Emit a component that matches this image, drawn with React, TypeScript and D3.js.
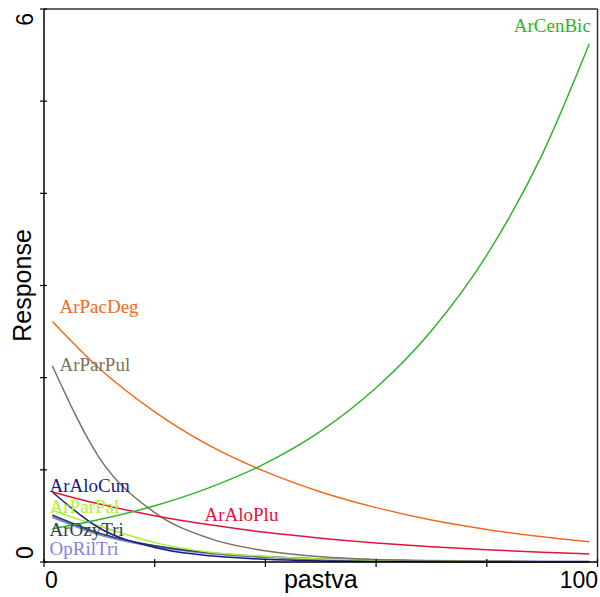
import React from "react";
import * as d3 from "d3";

const xs = [1.5, 10, 20, 30, 40, 50, 60, 70, 80, 90, 98.5];

const species = ["ArCenBic", "ArPacDeg", "ArParPul", "ArAloCun", "ArAloPlu", "ArParPal", "ArOzyTri", "OpRilTri"];

const ArCenBic = [0.36, 0.46, 0.61, 0.81, 1.07, 1.42, 1.89, 2.51, 3.33, 4.42, 5.62];
const ArPacDeg = [2.61, 2.1, 1.63, 1.26, 0.98, 0.76, 0.59, 0.455, 0.353, 0.273, 0.22];
const ArParPul = [2.13, 1.13, 0.536, 0.254, 0.121, 0.057, 0.027, 0.013, 0.006, 0.003, 0.0015];
const ArAloCun = [0.76, 0.369, 0.158, 0.067, 0.029, 0.012, 0.005, 0.002, 0.001, 0.0005, 0.0002];
const ArAloPlu = [0.76, 0.629, 0.503, 0.403, 0.322, 0.258, 0.206, 0.165, 0.132, 0.106, 0.087];
const ArParPal = [0.56, 0.39, 0.21, 0.105, 0.06, 0.033, 0.018, 0.01, 0.005, 0.003, 0.002];
const ArOzyTri = [0.51, 0.313, 0.176, 0.099, 0.056, 0.031, 0.018, 0.01, 0.0056, 0.003, 0.002];
const OpRilTri = [0.49, 0.3, 0.17, 0.095, 0.054, 0.03, 0.017, 0.01, 0.0055, 0.003, 0.002];

const seriesValues = [ArCenBic, ArPacDeg, ArParPul, ArAloCun, ArAloPlu, ArParPal, ArOzyTri, OpRilTri];
const colors = ["#2eb52a", "#f26b1d", "#7a7262", "#1b1b85", "#e0143c", "#adf03a", "#2a4545", "#8282dc"];
const widths = [1.5, 1.5, 1.5, 1.5, 1.5, 1.5, 1.5, 2.5];

// label anchor positions in data units [x, y], anchor
const labelPos: [number, number, string][] = [
  [98.8, 5.75, "end"],
  [2.8, 2.7, "start"],
  [2.8, 2.07, "start"],
  [1, 0.76, "start"],
  [29, 0.44, "start"],
  [1, 0.53, "start"],
  [1, 0.28, "start"],
  [1, 0.075, "start"],
];

const xTicks = [0, 20, 40, 60, 80, 100];
const yTicks = [0, 1, 2, 3, 4, 5, 6];

export default function App() {
  const W = 600, H = 597;
  const left = 44, right = 597.5, top = 9, bottom = 562;
  const x = d3.scaleLinear().domain([0, 100]).range([left, right]);
  const y = d3.scaleLinear().domain([0, 6]).range([bottom, top]);
  const line = d3
    .line<number>()
    .x((_, i) => x(xs[i]))
    .y((d) => y(d))
    .curve(d3.curveMonotoneX);

  const order = [7, 6, 5, 3, 2, 4, 1, 0];

  return (
    <svg width={W} height={H} style={{ position: "absolute", left: 0, top: 0 }}>
      <rect x={0} y={0} width={W} height={H} fill="white" />
      <line x1={left} x2={right} y1={top} y2={top} stroke="#333" strokeWidth={1.5} />
      <line x1={right} x2={right} y1={top} y2={bottom} stroke="#333" strokeWidth={1.5} />
      {order.map((k) => (
        <path key={species[k]} d={line(seriesValues[k]) || ""} fill="none" stroke={colors[k]} strokeWidth={widths[k]} />
      ))}
      <line x1={left} x2={left} y1={top} y2={bottom} stroke="black" strokeWidth={1.5} />
      <line x1={left} x2={right} y1={bottom} y2={bottom} stroke="black" strokeWidth={1.5} />
      {yTicks.map((t) => (
        <line key={"y" + t} x1={left - 4} x2={left + 3} y1={y(t)} y2={y(t)} stroke="black" strokeWidth={1.2} />
      ))}
      {xTicks.map((t) => (
        <line key={"x" + t} x1={x(t)} x2={x(t)} y1={bottom - 3} y2={bottom + 5} stroke="black" strokeWidth={1.2} />
      ))}
      <g fontFamily="Liberation Sans, Arial, sans-serif" fill="black">
        <text x={x(0) + 1} y={588} fontSize={23} textAnchor="start">0</text>
        <text x={right + 0.5} y={588} fontSize={23} textAnchor="end">100</text>
        <text x={(left + right) / 2} y={588} fontSize={25} textAnchor="middle">pastva</text>
        <text transform={`translate(33,${top + 4}) rotate(-90)`} fontSize={23} textAnchor="end">6</text>
        <text transform={`translate(33,${bottom - 3}) rotate(-90)`} fontSize={23} textAnchor="start">0</text>
        <text transform={`translate(31,${(top + bottom) / 2}) rotate(-90)`} fontSize={25} textAnchor="middle">Response</text>
      </g>
      <g fontFamily="Liberation Serif, Times New Roman, serif" fontSize={19}>
        {species.map((s, k) => (
          <text key={s} x={x(labelPos[k][0])} y={y(labelPos[k][1])} fill={colors[k]} textAnchor={labelPos[k][2]}>
            {s}
          </text>
        ))}
      </g>
    </svg>
  );
}
